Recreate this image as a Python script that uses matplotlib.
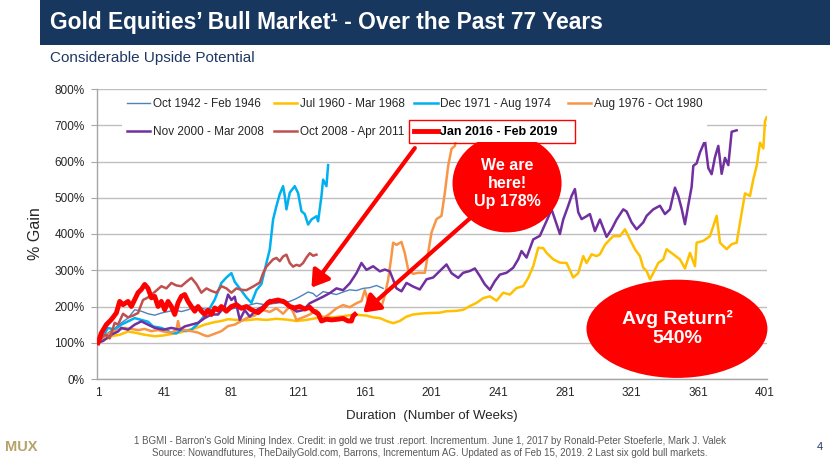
import matplotlib
matplotlib.use("Agg")
import matplotlib.pyplot as plt
from matplotlib.patches import Rectangle, Ellipse

plt.rcParams['font.family'] = ['Liberation Sans', 'DejaVu Sans']

# ---------------- data ----------------
labels = ["Oct 1942 - Feb 1946", "Jul 1960 - Mar 1968", "Dec 1971 - Aug 1974",
          "Aug 1976 - Oct 1980", "Nov 2000 - Mar 2008", "Oct 2008 - Apr 2011",
          "Jan 2016 - Feb 2019"]

w1942 = [1, 4, 7, 11, 15, 19, 23, 27, 31, 35, 39, 43, 47, 51, 55, 59, 63, 67, 71, 75,
         79, 83, 87, 91, 96, 101, 106, 111, 116, 120, 124, 127, 130, 132, 136, 140, 144,
         148, 152, 156, 160, 164, 168, 172]
v1942 = [100, 115, 127, 140, 155, 168, 191, 187, 180, 176, 182, 186, 190, 186, 191, 200, 195, 191, 188, 193,
         191, 195, 200, 203, 209, 205, 208, 211, 214, 222, 232, 240, 236, 227, 241, 237, 233,
         240, 246, 244, 250, 252, 258, 250]

w1960 = [1, 5, 9, 14, 19, 24, 29, 35, 40, 45, 50, 55, 60, 65, 71, 75, 79, 84, 90, 96,
         102, 108, 114, 120, 126, 132, 136, 142, 148, 152, 156, 162, 166, 170, 174, 178, 182, 186, 190, 196,
         200, 206, 210, 216, 220, 224, 228, 232, 236, 240, 244, 248, 252, 256, 259, 262, 265, 268, 270, 274,
         278, 282, 286, 289, 292, 294, 297, 300, 302, 305, 308, 310, 314, 317, 320, 323, 326, 328, 330, 332,
         334, 337, 340, 342, 346, 350, 353, 356, 359, 360, 364, 368, 372, 374, 378, 381, 384, 386, 389, 392,
         394, 396, 398, 400, 401, 402]
v1960 = [100, 108, 118, 122, 131, 127, 122, 118, 120, 124, 128, 135, 141, 150, 157, 160, 165, 163, 162, 165,
         163, 166, 164, 160, 163, 168, 172, 170, 173, 176, 177, 175, 170, 168, 160, 154, 160, 172, 178, 181,
         182, 183, 187, 188, 191, 201, 210, 223, 228, 216, 238, 233, 251, 256, 279, 311, 362, 361, 348, 330,
         321, 320, 280, 292, 339, 320, 344, 339, 344, 370, 385, 394, 394, 413, 385, 358, 339, 307, 298, 275,
         292, 320, 330, 358, 344, 330, 305, 348, 311, 376, 381, 394, 450, 376, 358, 372, 376, 431, 512, 505,
         551, 588, 652, 636, 712, 722]

w1971 = [1, 4, 7, 11, 15, 19, 23, 27, 31, 34, 39, 42, 45, 48, 51, 54, 57, 60, 63, 67,
         71, 75, 78, 81, 83, 86, 90, 93, 96, 99, 102, 104, 106, 108, 110, 112, 113, 114, 116, 119,
         121, 123, 125, 127, 129, 132, 133, 135, 136, 138, 139]
v1971 = [100, 118, 141, 136, 150, 159, 168, 163, 158, 145, 141, 135, 127, 126, 136, 132, 136, 148, 164, 187,
         219, 265, 280, 292, 268, 250, 225, 210, 245, 262, 320, 357, 440, 477, 510, 532, 505, 468, 514, 532,
         513, 463, 455, 426, 440, 449, 435, 504, 550, 532, 590]

w1976 = [1, 5, 9, 13, 17, 21, 25, 29, 33, 37, 41, 45, 48, 49, 50, 53, 57, 61, 65, 67,
         71, 75, 79, 83, 87, 91, 95, 98, 100, 104, 108, 112, 116, 118, 120, 124, 128, 132, 136, 140,
         144, 148, 152, 156, 159, 161, 163, 167, 171, 173, 175, 177, 178, 180, 183, 185, 187, 190, 193, 197,
         199, 201, 204, 207, 209, 211, 213, 215, 216, 218]
v1976 = [100, 118, 128, 135, 141, 138, 135, 138, 132, 135, 130, 128, 135, 160, 140, 135, 132, 128, 120, 118,
         125, 132, 146, 150, 160, 170, 175, 190, 190, 185, 195, 180, 200, 185, 163, 170, 178, 190, 167, 180,
         195, 204, 198, 209, 215, 245, 215, 219, 200, 230, 274, 340, 376, 370, 378, 347, 302, 290, 293, 293,
         348, 404, 441, 450, 514, 588, 635, 643, 672, 700]

w2000 = [1, 4, 9, 13, 15, 19, 23, 27, 31, 35, 40, 45, 50, 53, 57, 61, 65, 69, 73, 77,
         79, 81, 83, 86, 89, 92, 96, 100, 104, 108, 112, 116, 120, 124, 128, 132, 136, 140, 144, 148,
         152, 156, 159, 162, 166, 170, 173, 176, 178, 180, 183, 186, 190, 194, 198, 202, 206, 210, 213, 217,
         220, 224, 227, 230, 233, 236, 239, 242, 246, 250, 253, 255, 258, 262, 266, 270, 273, 275, 278, 280,
         283, 285, 287, 289, 291, 294, 296, 299, 302, 306, 309, 312, 316, 318, 321, 324, 328, 330, 334, 338,
         341, 344, 347, 349, 351, 353, 355, 357, 358, 360, 362, 365, 367, 369, 371, 373, 375, 377, 379, 381,
         384]
v2000 = [100, 105, 122, 131, 141, 136, 150, 159, 150, 141, 136, 141, 136, 145, 150, 155, 168, 178, 178, 200,
         233, 218, 227, 163, 190, 172, 190, 200, 218, 212, 218, 200, 186, 190, 209, 218, 227, 237, 250, 245,
         264, 292, 320, 301, 311, 297, 302, 297, 274, 250, 242, 265, 255, 247, 275, 280, 298, 316, 292, 279,
         293, 298, 305, 284, 261, 246, 270, 288, 293, 307, 330, 353, 335, 385, 395, 436, 468, 441, 400, 440,
         478, 505, 524, 460, 441, 449, 455, 408, 440, 392, 413, 440, 468, 462, 432, 413, 432, 450, 468, 478,
         455, 468, 528, 505, 470, 427, 480, 530, 588, 595, 625, 657, 582, 565, 612, 643, 566, 610, 590, 682,
         686]

w2008 = [1, 4, 6, 8, 11, 13, 16, 19, 22, 25, 28, 31, 35, 39, 42, 45, 48, 51, 54, 57,
         60, 63, 66, 69, 72, 75, 78, 81, 84, 87, 90, 94, 98, 100, 102, 104, 106, 108, 110, 112,
         114, 116, 118, 120, 122, 124, 126, 128, 130, 132]
v2008 = [100, 118, 122, 112, 155, 150, 180, 170, 175, 182, 218, 225, 240, 256, 250, 265, 258, 256, 268, 279,
         262, 238, 250, 243, 238, 256, 250, 238, 250, 246, 245, 255, 266, 292, 310, 320, 330, 334, 325, 338,
         343, 320, 310, 315, 312, 320, 335, 347, 340, 343]

w2016 = [1, 3, 6, 9, 12, 14, 16, 19, 21, 23, 25, 27, 29, 31, 33, 35, 37, 39, 41, 43,
         45, 47, 49, 51, 53, 55, 57, 59, 61, 63, 65, 67, 69, 71, 73, 75, 78, 81, 84, 87,
         90, 93, 97, 100, 103, 106, 109, 113, 116, 119, 122, 125, 128, 130, 133, 135, 138, 141, 145, 148,
         151, 153, 154, 155]
v2016 = [100, 127, 150, 164, 182, 214, 205, 214, 200, 219, 238, 247, 261, 250, 224, 228, 200, 214, 191, 214,
         200, 178, 210, 228, 233, 214, 200, 187, 200, 187, 178, 190, 178, 196, 190, 200, 187, 200, 205, 195,
         200, 191, 183, 195, 211, 215, 218, 212, 200, 196, 200, 193, 198, 188, 180, 160, 165, 163, 165, 167,
         160, 160, 174, 178]

x_ticks = [1, 41, 81, 121, 161, 201, 241, 281, 321, 361, 401]
y_ticks = [0, 100, 200, 300, 400, 500, 600, 700, 800]

series = [(w1942, v1942), (w1960, v1960), (w1971, v1971), (w1976, v1976),
          (w2000, v2000), (w2008, v2008), (w2016, v2016)]
colors = ["#4F81BD", "#FFC000", "#00B0F0", "#F79646", "#7030A0", "#C0504D", "#FF0000"]
widths = [1.0, 1.8, 1.8, 1.8, 1.8, 1.8, 3.5]

# ---------------- figure ----------------
W, H = 830, 467
fig = plt.figure(figsize=(W / 100, H / 100), dpi=100)
fig.patch.set_facecolor("white")

def fx(px):
    return px / W

def fy(py):
    return 1 - py / H

# banner + titles
fig.patches.append(Rectangle((fx(40), fy(45)), fx(790), 45 / H, transform=fig.transFigure,
                             facecolor="#17375E", edgecolor="none", zorder=0))
fig.text(fx(50), fy(23), "Gold Equities\u2019 Bull Market\u00b9 - Over the Past 77 Years",
         color="white", fontsize=16.4, fontweight="bold", va="center", ha="left")
fig.text(fx(50), fy(58), "Considerable Upside Potential", color="#1F3864",
         fontsize=11, va="center", ha="left")

ax = fig.add_axes([fx(97), fy(379), fx(767) - fx(97), (379 - 89) / H])

handles = []
for (wk, val), lab, c, lw in zip(series, labels, colors, widths):
    ln, = ax.plot(wk, val, color=c, lw=lw, label=lab, zorder=3, solid_joinstyle="round")
    handles.append(ln)

ax.set_xlim(0.4, 402.2)
ax.set_ylim(0, 800)
ax.set_yticks(y_ticks)
ax.set_yticklabels([f"{v}%" for v in y_ticks])
ax.set_xticks(x_ticks)
ax.set_xticklabels([str(v) for v in x_ticks])
ax.yaxis.grid(True, color="#BFBFBF", lw=1.0, zorder=1)
ax.set_axisbelow(True)
for s in ["top", "right"]:
    ax.spines[s].set_visible(False)
for s in ["left", "bottom"]:
    ax.spines[s].set_color("#A6A6A6")
    ax.spines[s].set_linewidth(1.0)
ax.tick_params(axis="y", length=4, color="#A6A6A6", labelsize=8.5, labelcolor="#262626", pad=5)
ax.tick_params(axis="x", length=0, labelsize=8.5, labelcolor="#262626", pad=6)
ax.set_xlabel("Duration  (Number of Weeks)", fontsize=9.5, color="#262626", labelpad=8)

fig.text(fx(35), fy(234), "% Gain", rotation=90, fontsize=11.5, color="#262626",
         va="center", ha="center")

# legend, row-major order in 4 columns
order = [0, 4, 1, 5, 2, 6, 3]
leg = ax.legend([handles[i] for i in order], [labels[i] for i in order], ncol=4,
                loc="upper left", bbox_to_anchor=(fx(122), fy(93)),
                bbox_transform=fig.transFigure, fontsize=8.5, frameon=True,
                handlelength=1.95, handletextpad=0.25, columnspacing=0.85,
                labelspacing=1.35, borderpad=0.4, borderaxespad=0)
leg.get_frame().set_facecolor("white")
leg.get_frame().set_edgecolor("none")
leg.get_frame().set_alpha(1)
leg.set_zorder(10)
bold_text = None
for t in leg.get_texts():
    t.set_color("#262626")
    if t.get_text().startswith("Jan 2016"):
        t.set_fontweight("bold")
        t.set_fontsize(9)
        t.set_color("black")
        bold_text = t

# red box around the current-market legend entry, sized from the drawn text
fig.canvas.draw()
bb = bold_text.get_window_extent()
x0, x1 = bb.x0 - 31, bb.x1 + 17
yc = (bb.y0 + bb.y1) / 2
fig.patches.append(Rectangle((x0 / W, (yc - 11.5) / H), (x1 - x0) / W, 23 / H,
                             transform=fig.transFigure, fill=False, edgecolor="#FF0000",
                             lw=1.0, zorder=20))

# arrows
arrow_kw = dict(arrowstyle="-|>,head_length=0.7,head_width=0.45", color="#FF0000", lw=3,
                shrinkA=0, shrinkB=0, mutation_scale=14)
ax.annotate("", xy=(129, 252), xytext=(191, 637), arrowprops=arrow_kw, zorder=6)
ax.annotate("", xy=(160, 183), xytext=(224, 443), arrowprops=arrow_kw, zorder=6)

# ellipses
ax.add_patch(Ellipse((246.3, 540), 65.4, 271, facecolor="#FF0000", edgecolor="none", zorder=7))
ax.text(246.3, 540, "We are\nhere!\nUp 178%", color="white", fontsize=11.5, fontweight="bold",
        ha="center", va="center", linespacing=1.25, zorder=8)
ax.add_patch(Ellipse((348.2, 138.5), 108.5, 271, facecolor="#FF0000", edgecolor="none", zorder=7,
                     clip_on=False))
ax.text(348.2, 138.5, "Avg Return\u00b2\n540%", color="white", fontsize=14, fontweight="bold",
        ha="center", va="center", linespacing=1.15, zorder=8)

# footnotes
fig.text(fx(430), fy(441), "1 BGMI - Barron's Gold Mining Index. Credit: in gold we trust .report. "
         "Incrementum. June 1, 2017 by Ronald-Peter Stoeferle, Mark J. Valek",
         fontsize=7, color="#595959", ha="center", va="center")
fig.text(fx(430), fy(453), "Source: Nowandfutures, TheDailyGold.com, Barrons, Incrementum AG. "
         "Updated as of Feb 15, 2019. 2 Last six gold bull markets.",
         fontsize=7, color="#595959", ha="center", va="center")
fig.text(fx(5), fy(447), "MUX", fontsize=10.5, fontweight="bold", color="#B5A36A",
         ha="left", va="center")
fig.text(fx(820), fy(447), "4", fontsize=8, color="#1F3864", ha="center", va="center")

fig.savefig("out.png", dpi=100)
